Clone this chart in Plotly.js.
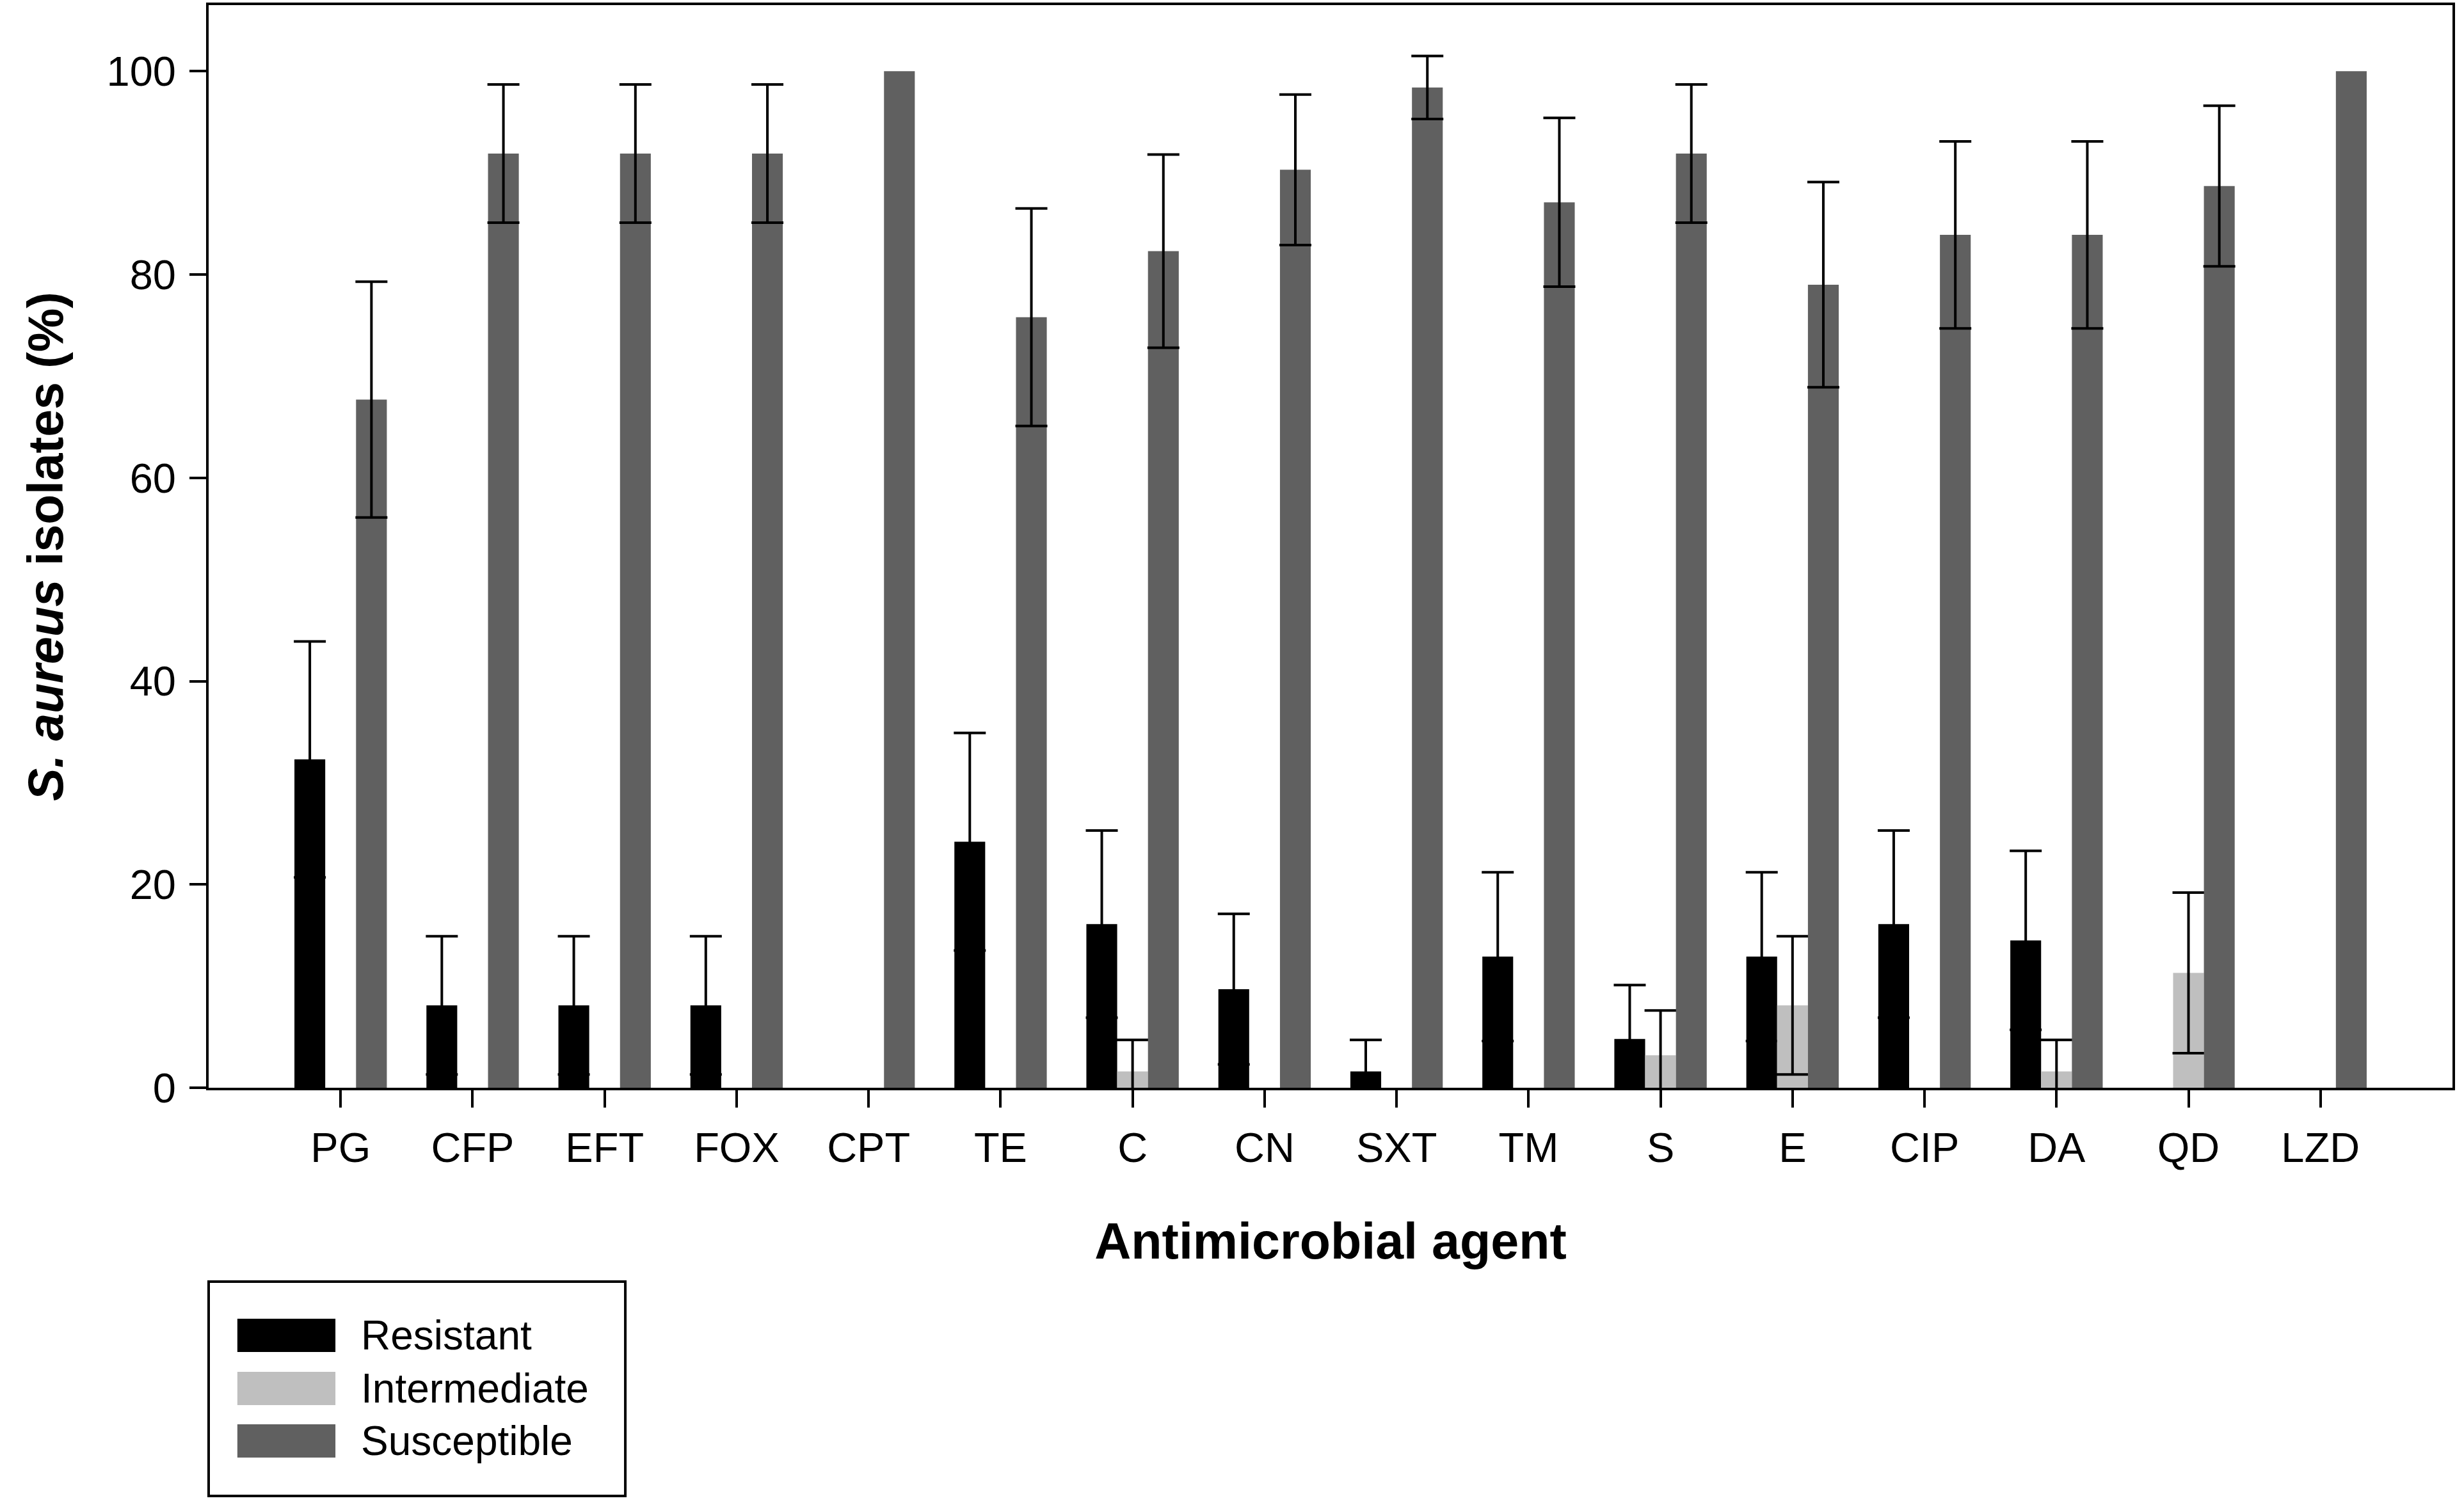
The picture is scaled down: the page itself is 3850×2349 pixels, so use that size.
<!DOCTYPE html>
<html><head><meta charset="utf-8">
<script src="https://cdn.plot.ly/plotly-3.0.1.min.js"></script>
<style>html,body{margin:0;padding:0;background:#fff}</style>
</head><body><div id="chart" style="width:3850px;height:2349px"></div>
<script>
const categories = ['PG','CFP','EFT','FOX','CPT','TE','C','CN','SXT','TM','S','E','CIP','DA','QD','LZD'];
const seriesNames = ['Resistant','Intermediate','Susceptible'];
const seriesColors = ['#000000','#bfbfbf','#606060'];
const resistant = [32.3,8.1,8.1,8.1,0,24.2,16.1,9.7,1.6,12.9,4.8,12.9,16.1,14.5,0,0];
const resistantErr = [11.6,6.8,6.8,6.8,NaN,10.7,9.2,7.4,3.1,8.3,5.3,8.3,9.2,8.8,NaN,NaN];
const intermediate = [0,0,0,0,0,0,1.6,0,0,0,3.2,8.1,0,1.6,11.3,0];
const intermediateErr = [NaN,NaN,NaN,NaN,NaN,NaN,3.1,NaN,NaN,NaN,4.4,6.8,NaN,3.1,7.9,NaN];
const susceptible = [67.7,91.9,91.9,91.9,100,75.8,82.3,90.3,98.4,87.1,91.9,79.0,83.9,83.9,88.7,100];
const susceptibleErr = [11.6,6.8,6.8,6.8,NaN,10.7,9.5,7.4,3.1,8.3,6.8,10.1,9.2,9.2,7.9,NaN];
const yTicks = [0,20,40,60,80,100];

const FONT = 'Liberation Sans, Arial, sans-serif';
const values = [resistant, intermediate, susceptible];
const errors = [resistantErr, intermediateErr, susceptibleErr];

const traces = seriesNames.map((name, i) => ({
  type: 'bar',
  name: name,
  x: categories,
  y: values[i],
  marker: {color: seriesColors[i], line: {width: 0}},
  error_y: {type: 'data', array: errors[i], visible: true, color: '#000', thickness: 4, width: 25},
  showlegend: false,
  hoverinfo: 'x+y+name'
}));

// custom legend (box, swatches, labels)
const shapes = [{
  type: 'rect', xref: 'paper', yref: 'paper',
  x0: 0, x1: 0.1857, y0: -0.3771, y1: -0.1791,
  line: {color: '#000', width: 4}, fillcolor: 'rgba(0,0,0,0)'
}];
const annotations = [];
const swTop = [-0.2134, -0.2624, -0.3109];
const swH = 0.0307;
seriesNames.forEach((name, i) => {
  shapes.push({
    type: 'rect', xref: 'paper', yref: 'paper',
    x0: 0.0128, x1: 0.0565, y0: swTop[i] - swH, y1: swTop[i],
    line: {width: 0}, fillcolor: seriesColors[i]
  });
  annotations.push({
    xref: 'paper', yref: 'paper', x: 0.0672, y: swTop[i] - swH / 2,
    xanchor: 'left', yanchor: 'middle', showarrow: false,
    text: name, font: {family: FONT, size: 64, color: '#000'}
  });
});

const layout = {
  width: 3850, height: 2349,
  margin: {l: 326, r: 18, t: 8, b: 649},
  paper_bgcolor: '#fff', plot_bgcolor: '#fff',
  barmode: 'group', bargap: 0.3, bargroupgap: 0,
  font: {family: FONT, color: '#000'},
  xaxis: {
    type: 'category', range: [-1, 16],
    showline: true, linecolor: '#000', linewidth: 4, mirror: true,
    ticks: 'outside', ticklen: 27, tickwidth: 4, tickcolor: '#000',
    ticklabelstandoff: 7,
    tickfont: {family: FONT, size: 65, color: '#000'},
    showgrid: false, zeroline: false,
    title: {text: '<b>Antimicrobial agent</b>', font: {family: FONT, size: 79, color: '#000'}, standoff: 84}
  },
  yaxis: {
    range: [0, 106.5], tickvals: yTicks, ticktext: yTicks.map(String),
    showline: true, linecolor: '#000', linewidth: 4, mirror: true,
    ticks: 'outside', ticklen: 26, tickwidth: 4, tickcolor: '#000',
    ticklabelstandoff: 8,
    tickfont: {family: FONT, size: 65, color: '#000'},
    showgrid: false, zeroline: false,
    title: {text: '<b><i>S. aureus</i> isolates (%)</b>', font: {family: FONT, size: 77, color: '#000'}, standoff: 44}
  },
  shapes: shapes,
  annotations: annotations
};

Plotly.newPlot('chart', traces, layout, {displayModeBar: false, responsive: false});
</script></body></html>
